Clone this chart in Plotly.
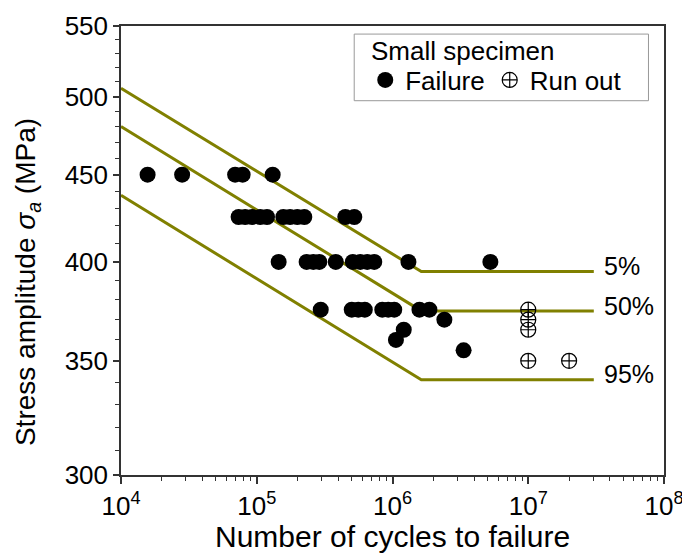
import math
import plotly.graph_objects as go

# ---- data ----
fail_N = [1.57e4, 2.82e4, 6.93e4, 7.87e4, 1.31e5,
          7.35e4, 8.21e4, 9.25e4, 1.06e5, 1.19e5, 1.57e5, 1.76e5, 1.99e5, 2.24e5, 4.49e5, 5.23e5,
          1.45e5, 2.33e5, 2.61e5, 2.89e5, 3.82e5, 5.1e5, 5.79e5, 6.52e5, 7.34e5, 1.31e6, 5.26e6,
          2.96e5, 5.01e5, 5.6e5, 6.25e5, 8.41e5, 9.31e5, 1.03e6, 1.58e6, 1.87e6,
          2.41e6, 1.21e6, 1.06e6, 3.34e6]
fail_S = [450, 450, 450, 450, 450,
          425, 425, 425, 425, 425, 425, 425, 425, 425, 425, 425,
          400, 400, 400, 400, 400, 400, 400, 400, 400, 400, 400,
          375, 375, 375, 375, 375, 375, 375, 375, 375,
          370, 365, 360, 355]

runout_N = [1e7, 1e7, 1e7, 1e7, 2e7]
runout_S = [375, 370, 365, 350, 350]

curve_N = [1e4, 1.63e6, 3.04e7]
curve_P5 = [505.6, 394.8, 394.8]
curve_P50 = [480.2, 374.4, 374.4]
curve_P95 = [437.6, 341.2, 341.2]

curve_labels = ["5%", "50%", "95%"]
curve_label_S = [398, 376.9, 343.8]
curve_label_N = 3.47e7

y_ticks = [300, 350, 400, 450, 500, 550]
y_minor = [v for v in range(310, 550, 10) if v % 50 != 0]
x_ticks = [1e4, 1e5, 1e6, 1e7, 1e8]
x_ticktext = ["10<sup>4</sup>", "10<sup>5</sup>", "10<sup>6</sup>", "10<sup>7</sup>", "10<sup>8</sup>"]
x_minor = [m * 10 ** e for e in range(4, 8) for m in range(2, 10)]

OLIVE = "#808000"
FONT = "Liberation Sans, Arial, sans-serif"

fig = go.Figure()
for ys in (curve_P5, curve_P50, curve_P95):
    fig.add_trace(go.Scatter(x=curve_N, y=ys, mode="lines",
                             line=dict(color=OLIVE, width=3), showlegend=False,
                             hoverinfo="skip"))

fig.add_trace(go.Scatter(x=fail_N, y=fail_S, mode="markers", name="Failure",
                         marker=dict(symbol="circle", size=16, color="black",
                                     line=dict(width=0))))
fig.add_trace(go.Scatter(x=runout_N, y=runout_S, mode="markers", name="Run out",
                         marker=dict(symbol="circle-cross-open", size=15, color="black",
                                     line=dict(width=1.2))))

for lab, s in zip(curve_labels, curve_label_S):
    fig.add_annotation(x=math.log10(curve_label_N), y=math.log10(s), text=lab,
                       xref="x", yref="y", showarrow=False, xanchor="left",
                       yanchor="middle", font=dict(size=25, color="black", family=FONT))

# axis titles as annotations for exact placement
fig.add_annotation(x=-0.171, y=0.43, xref="paper", yref="paper",
                   text="Stress amplitude <i>σ<sub>a</sub></i>&nbsp;(MPa)", textangle=-90,
                   showarrow=False, xanchor="center", yanchor="middle",
                   font=dict(size=28, color="black", family=FONT))
fig.add_annotation(x=0.5, y=-0.138, xref="paper", yref="paper",
                   text="Number of cycles to failure",
                   showarrow=False, xanchor="center", yanchor="middle",
                   font=dict(size=30, color="black", family=FONT))

# legend frame and title
fig.add_shape(type="rect", xref="paper", yref="paper", x0=0.4295, x1=0.9714,
              y0=0.8336, y1=0.982, line=dict(color="#999999", width=1),
              fillcolor="white", layer="below")
fig.add_annotation(x=0.457, y=0.945, xref="paper", yref="paper", text="Small specimen",
                   showarrow=False, xanchor="left", yanchor="middle",
                   font=dict(size=26, color="black", family=FONT))

axis_common = dict(showline=True, linecolor="#333333", linewidth=1.5, mirror=True,
                   showgrid=False, zeroline=False, ticks="outside", tickcolor="#333333",
                   tickwidth=1.5, tickfont=dict(size=26, color="black", family=FONT),
                   ticklabeloverflow="allow")

fig.update_xaxes(type="log", range=[4, 8], tickmode="array", tickvals=x_ticks,
                 ticktext=x_ticktext, ticklen=7,
                 minor=dict(tickmode="array", tickvals=x_minor, ticks="outside",
                            ticklen=4, tickcolor="#333333", tickwidth=1.2),
                 **axis_common)
fig.update_yaxes(type="log", range=[math.log10(300), math.log10(550)], tickmode="array",
                 tickvals=y_ticks, ticklen=6,
                 minor=dict(tickmode="array", tickvals=y_minor, ticks="outside",
                            ticklen=4, tickcolor="#333333", tickwidth=1.2),
                 **axis_common)

fig.update_layout(
    width=682, height=556,
    margin=dict(l=121, r=18, t=26, b=81, autoexpand=False),
    plot_bgcolor="white", paper_bgcolor="white",
    font=dict(family=FONT, color="black"),
    showlegend=True,
    legend=dict(orientation="h", x=0.4498, y=0.8797, xanchor="left", yanchor="middle",
                borderwidth=0, bgcolor="rgba(0,0,0,0)",
                font=dict(size=26, color="black", family=FONT),
                itemsizing="trace"),
)

fig.write_html("out.html")
